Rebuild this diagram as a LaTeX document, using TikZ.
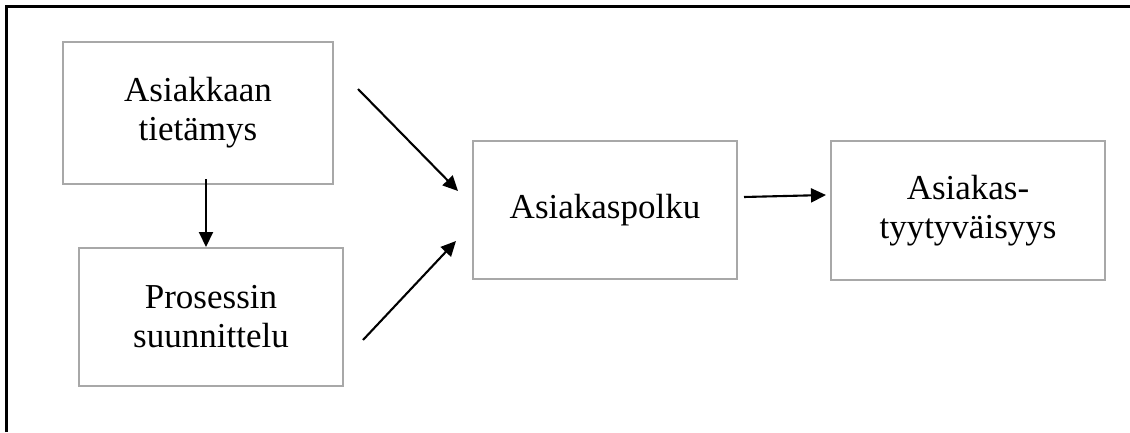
\documentclass[tikz,border=0pt]{standalone}
\usepackage{fontspec}
\setmainfont{Liberation Serif}
\usetikzlibrary{arrows.meta}
\tikzset{
  boxstyle/.style={draw=black!34, line width=2pt, rectangle, align=center,
    font=\fontsize{35}{39}\selectfont, inner sep=0pt},
  arr/.style={line width=2.1pt, -{Triangle[length=15pt,width=14pt]}},
  framestyle/.style={line width=2.4pt, black}
}
\begin{document}
\begin{tikzpicture}[x=1pt,y=1pt]
\useasboundingbox (0,0) rectangle (1130,432);
\coordinate (fb) at (6.5,0);
\coordinate (ftl) at (6.5,425.5);
\coordinate (fr) at (1130,425.5);
\draw[framestyle] (fb) -- (ftl) -- (fr);
\node[boxstyle, minimum width=270pt, minimum height=142pt] (b1) at (198,319) {Asiakkaan\\tietämys};
\node[boxstyle, minimum width=264pt, minimum height=138pt] (b2) at (211,115) {Prosessin\\suunnittelu};
\node[boxstyle, minimum width=264pt, minimum height=138pt] (b3) at (605,222) {Asiakaspolku};
\node[boxstyle, minimum width=274pt, minimum height=139pt] (b4) at (968,221.5) {Asiakas-\\tyytyväisyys};
\draw[arr] ([xshift=8pt,yshift=6pt]b1.south) -- ([xshift=-5pt]b2.north);
\draw[arr] ([xshift=24pt,yshift=24pt]b1.east) -- ([xshift=-14pt,yshift=19pt]b3.west);
\draw[arr] ([xshift=19pt,yshift=-23pt]b2.east) -- ([xshift=-16pt,yshift=-31pt]b3.west);
\draw[arr] ([xshift=6pt,yshift=13pt]b3.east) -- ([xshift=-4pt,yshift=15.5pt]b4.west);
\end{tikzpicture}
\end{document}
